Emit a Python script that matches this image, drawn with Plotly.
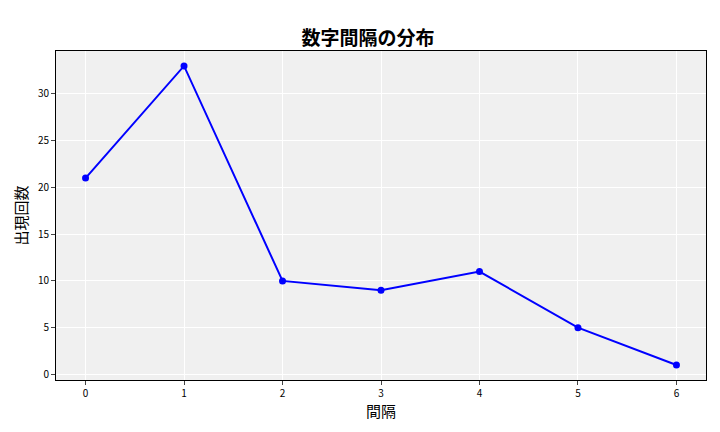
import plotly.graph_objects as go

gaps = [0, 1, 2, 3, 4, 5, 6]
counts = [21, 33, 10, 9, 11, 5, 1]

font = "Noto Sans CJK JP"
fig = go.Figure(go.Scatter(x=gaps, y=counts, mode="lines+markers",
                           line=dict(color="blue", width=2),
                           marker=dict(color="blue", size=7)))
fig.update_layout(
    width=720, height=432, paper_bgcolor="white", plot_bgcolor="#f0f0f0",
    margin=dict(l=48, r=22, t=43, b=60),
    title=dict(text="<b>数字間隔の分布</b>", x=0.5, xanchor="center", y=0.945,
               font=dict(family=font, size=19, color="black")),
    font=dict(family=font, size=10, color="black"), showlegend=False,
)
ax = dict(showline=True, linecolor="black", mirror=True, gridcolor="white",
          ticks="outside", ticklen=4, zeroline=False)
fig.update_xaxes(title=dict(text="間隔", font=dict(size=15), standoff=4),
                 range=[-0.3, 6.3], dtick=1, **ax)
fig.update_yaxes(title=dict(text="出現回数", font=dict(size=15), standoff=6),
                 range=[-0.6, 34.6], dtick=5, **ax)
fig.write_html("out.html")
